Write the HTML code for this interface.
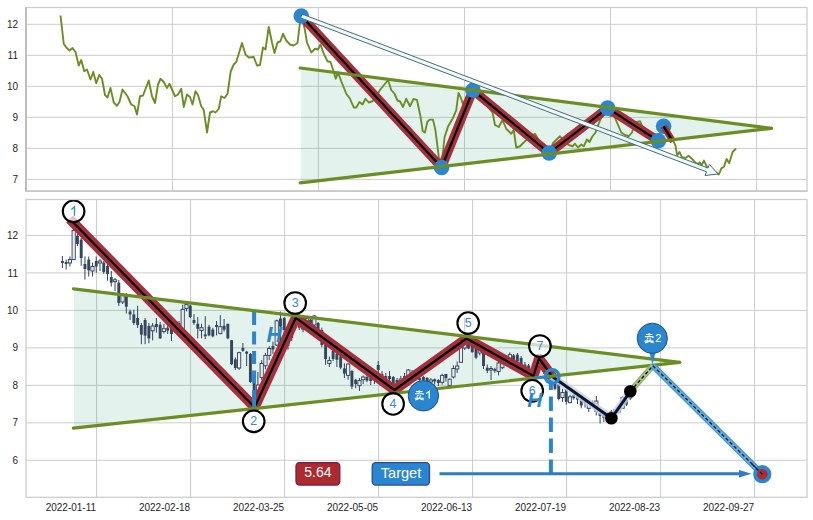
<!DOCTYPE html>
<html><head><meta charset="utf-8"><style>
html,body{margin:0;padding:0;background:#fff;width:813px;height:520px;overflow:hidden}
svg{display:block}
text{font-family:"Liberation Sans",sans-serif}
</style></head><body>
<svg width="813" height="520" viewBox="0 0 813 520">
<rect x="0" y="0" width="813" height="520" fill="#fff"/>
<g>
<line x1="26.0" y1="179.40" x2="807.0" y2="179.40" stroke="#cccccc" stroke-width="1"/>
<text x="18" y="183.00" font-size="10" fill="#262626" text-anchor="end">7</text>
<line x1="26.0" y1="148.38" x2="807.0" y2="148.38" stroke="#cccccc" stroke-width="1"/>
<text x="18" y="151.98" font-size="10" fill="#262626" text-anchor="end">8</text>
<line x1="26.0" y1="117.36" x2="807.0" y2="117.36" stroke="#cccccc" stroke-width="1"/>
<text x="18" y="120.96" font-size="10" fill="#262626" text-anchor="end">9</text>
<line x1="26.0" y1="86.34" x2="807.0" y2="86.34" stroke="#cccccc" stroke-width="1"/>
<text x="18" y="89.94" font-size="10" fill="#262626" text-anchor="end">10</text>
<line x1="26.0" y1="55.32" x2="807.0" y2="55.32" stroke="#cccccc" stroke-width="1"/>
<text x="18" y="58.92" font-size="10" fill="#262626" text-anchor="end">11</text>
<line x1="26.0" y1="24.30" x2="807.0" y2="24.30" stroke="#cccccc" stroke-width="1"/>
<text x="18" y="27.90" font-size="10" fill="#262626" text-anchor="end">12</text>
<line x1="172.4" y1="7.5" x2="172.4" y2="191.3" stroke="#cccccc" stroke-width="1"/>
<line x1="318.4" y1="7.5" x2="318.4" y2="191.3" stroke="#cccccc" stroke-width="1"/>
<line x1="464.5" y1="7.5" x2="464.5" y2="191.3" stroke="#cccccc" stroke-width="1"/>
<line x1="610.5" y1="7.5" x2="610.5" y2="191.3" stroke="#cccccc" stroke-width="1"/>
<line x1="756.6" y1="7.5" x2="756.6" y2="191.3" stroke="#cccccc" stroke-width="1"/>
<polygon points="301,68.3 771.5,128.3 301,182.9" fill="#3ca078" fill-opacity="0.14"/>
<polyline points="60.50,15.50 63.75,43.75 66.25,47.50 69.50,50.50 72.50,48.00 75.50,52.00 78.75,65.50 81.25,60.00 84.25,71.25 87.00,69.50 90.50,79.50 93.25,72.00 96.25,83.25 99.25,75.00 102.00,78.75 105.00,95.00 107.50,97.50 110.50,88.00 113.75,102.50 117.00,105.75 119.50,102.00 122.50,89.50 127.50,96.25 131.25,104.50 134.50,106.25 137.00,114.50 140.00,96.25 143.00,95.50 148.75,80.50 152.00,96.25 155.00,103.00 158.00,84.50 160.50,78.75 163.75,82.00 167.00,88.00 169.50,83.75 175.00,96.25 178.00,94.50 181.25,88.75 183.75,107.00 187.00,94.50 190.00,97.00 192.50,104.50 195.50,91.25 198.00,95.00 201.25,106.25 203.75,110.00 207.00,132.50 210.00,112.50 213.00,111.25 215.50,112.50 218.75,108.75 221.25,96.25 224.50,98.00 227.50,93.75 230.75,71.25 233.75,64.50 236.25,62.00 242.00,43.00 245.50,54.50 248.75,57.50 253.75,57.00 257.00,65.50 260.00,65.00 263.00,47.50 265.50,49.50 268.75,27.00 272.00,42.50 274.50,53.00 277.50,42.50 280.50,41.25 283.00,33.75 286.25,40.50 290.00,44.50 293.75,45.50 297.50,43.00 300.00,22.50 301.30,16.00 304.60,28.30 307.00,42.50 311.25,52.50 315.00,48.75 318.00,49.50 320.50,44.50 323.75,53.75 327.50,61.25 330.50,62.00 333.00,69.50 335.75,78.75 338.00,72.50 341.25,81.25 346.25,93.75 350.00,98.75 353.75,107.50 356.25,107.50 359.50,102.00 362.50,104.50 365.50,98.75 368.75,102.50 372.50,101.25 376.00,97.00 380.00,90.00 385.00,83.75 388.00,80.00 391.25,90.00 394.50,93.75 397.50,100.50 400.00,101.25 403.00,107.00 406.25,98.75 410.00,106.25 413.50,98.90 417.00,100.00 420.40,116.00 422.70,131.00 425.00,132.40 427.30,122.00 429.60,119.60 433.00,119.60 435.40,130.00 438.90,157.80 441.50,166.00 444.60,137.00 448.00,126.60 452.70,118.50 456.20,110.40 458.50,93.00 460.80,97.70 463.00,104.00 467.00,96.00 473.00,90.00 480.00,100.00 487.00,106.00 492.50,112.50 495.00,125.00 498.75,127.00 502.50,120.00 506.25,128.75 511.25,133.75 513.75,130.00 516.25,147.50 520.00,146.25 525.00,141.25 530.00,137.50 535.00,133.75 540.00,142.50 545.00,148.00 549.00,153.00 553.00,143.00 560.00,136.25 564.00,141.00 568.75,145.00 572.50,146.25 575.00,143.75 578.00,147.50 581.25,144.50 583.75,146.25 587.00,139.50 589.50,142.00 592.50,136.25 595.50,132.50 598.00,125.50 601.25,117.50 605.00,110.00 607.50,108.00 610.50,116.25 613.75,115.00 617.50,123.75 621.25,132.50 625.00,135.00 628.75,136.25 632.00,132.50 635.00,122.50 640.00,121.25 645.00,132.50 650.00,136.00 655.00,140.00 658.00,141.00 662.00,128.00 664.00,126.00 668.00,133.00 673.80,141.60 675.50,145.90 677.20,155.40 679.50,152.00 681.90,157.10 685.40,158.00 688.50,155.80 692.00,158.90 695.40,162.70 698.00,164.00 699.70,162.30 701.50,165.50 704.00,160.60 706.70,166.70 710.00,168.00 714.00,171.00 718.80,174.50 721.40,168.40 724.00,166.70 726.60,158.90 729.20,163.20 732.60,152.00 736.10,148.50" fill="none" stroke="#6b8e23" stroke-width="1.9" stroke-linejoin="round"/>
<polyline points="301.30,16.00 441.60,167.50 473.00,90.30 549.20,153.00 607.60,108.10 658.30,140.80" fill="none" stroke="#a5303b" stroke-width="9" stroke-linejoin="round" stroke-linecap="square"/>
<polyline points="301.30,16.00 441.60,167.50 473.00,90.30 549.20,153.00 607.60,108.10 658.30,140.80" fill="none" stroke="#000" stroke-width="2.2" stroke-linejoin="round"/>
<circle cx="301.3" cy="16" r="7.8" fill="#2a86cf"/>
<circle cx="441.6" cy="167.5" r="7.8" fill="#2a86cf"/>
<circle cx="473" cy="90.3" r="7.8" fill="#2a86cf"/>
<circle cx="549.2" cy="153" r="7.8" fill="#2a86cf"/>
<circle cx="607.6" cy="108.1" r="7.8" fill="#2a86cf"/>
<circle cx="658.3" cy="140.8" r="7.8" fill="#2a86cf"/>
<circle cx="663.6" cy="126.3" r="7.8" fill="#2a86cf"/>
<line x1="663.6" y1="126.3" x2="673" y2="141.5" stroke="#a5303b" stroke-width="6.5"/>
<line x1="663.6" y1="126.3" x2="672.2" y2="140.3" stroke="#000" stroke-width="2.2"/>
<line x1="300.2" y1="68" x2="771.5" y2="128.3" stroke="#6b8e23" stroke-width="3.2" stroke-linecap="round"/>
<line x1="300.2" y1="182.9" x2="771.5" y2="128.3" stroke="#6b8e23" stroke-width="3.2" stroke-linecap="round"/>
<polygon points="300.57,17.92 706.52,171.84 705.12,175.53 718.00,174.00 709.37,164.31 707.97,168.01 302.03,14.08" fill="#effafa" stroke="#4a6a7a" stroke-width="1" stroke-linejoin="miter"/>
<rect x="26.0" y="7.5" width="781.0" height="183.8" fill="none" stroke="#cccccc" stroke-width="1.25"/>
<line x1="26" y1="7" x2="26" y2="191.8" stroke="#bcbcbc" stroke-width="1.9"/>
<line x1="25" y1="191.1" x2="807.5" y2="191.1" stroke="#c6c6c6" stroke-width="1.5"/>
</g>
<g>
<line x1="26.0" y1="460.30" x2="807.0" y2="460.30" stroke="#cccccc" stroke-width="1"/>
<text x="18" y="463.90" font-size="10" fill="#262626" text-anchor="end">6</text>
<line x1="26.0" y1="422.82" x2="807.0" y2="422.82" stroke="#cccccc" stroke-width="1"/>
<text x="18" y="426.42" font-size="10" fill="#262626" text-anchor="end">7</text>
<line x1="26.0" y1="385.34" x2="807.0" y2="385.34" stroke="#cccccc" stroke-width="1"/>
<text x="18" y="388.94" font-size="10" fill="#262626" text-anchor="end">8</text>
<line x1="26.0" y1="347.86" x2="807.0" y2="347.86" stroke="#cccccc" stroke-width="1"/>
<text x="18" y="351.46" font-size="10" fill="#262626" text-anchor="end">9</text>
<line x1="26.0" y1="310.38" x2="807.0" y2="310.38" stroke="#cccccc" stroke-width="1"/>
<text x="18" y="313.98" font-size="10" fill="#262626" text-anchor="end">10</text>
<line x1="26.0" y1="272.90" x2="807.0" y2="272.90" stroke="#cccccc" stroke-width="1"/>
<text x="18" y="276.50" font-size="10" fill="#262626" text-anchor="end">11</text>
<line x1="26.0" y1="235.42" x2="807.0" y2="235.42" stroke="#cccccc" stroke-width="1"/>
<text x="18" y="239.02" font-size="10" fill="#262626" text-anchor="end">12</text>
<line x1="96.60" y1="199.5" x2="96.60" y2="497.3" stroke="#cccccc" stroke-width="1"/>
<text x="96.10" y="511.3" font-size="10" fill="#262626" text-anchor="end">2022-01-11</text>
<line x1="190.60" y1="199.5" x2="190.60" y2="497.3" stroke="#cccccc" stroke-width="1"/>
<text x="190.10" y="511.3" font-size="10" fill="#262626" text-anchor="end">2022-02-18</text>
<line x1="284.60" y1="199.5" x2="284.60" y2="497.3" stroke="#cccccc" stroke-width="1"/>
<text x="284.10" y="511.3" font-size="10" fill="#262626" text-anchor="end">2022-03-25</text>
<line x1="378.60" y1="199.5" x2="378.60" y2="497.3" stroke="#cccccc" stroke-width="1"/>
<text x="378.10" y="511.3" font-size="10" fill="#262626" text-anchor="end">2022-05-05</text>
<line x1="472.60" y1="199.5" x2="472.60" y2="497.3" stroke="#cccccc" stroke-width="1"/>
<text x="472.10" y="511.3" font-size="10" fill="#262626" text-anchor="end">2022-06-13</text>
<line x1="566.60" y1="199.5" x2="566.60" y2="497.3" stroke="#cccccc" stroke-width="1"/>
<text x="566.10" y="511.3" font-size="10" fill="#262626" text-anchor="end">2022-07-19</text>
<line x1="660.60" y1="199.5" x2="660.60" y2="497.3" stroke="#cccccc" stroke-width="1"/>
<text x="660.10" y="511.3" font-size="10" fill="#262626" text-anchor="end">2022-08-23</text>
<line x1="754.60" y1="199.5" x2="754.60" y2="497.3" stroke="#cccccc" stroke-width="1"/>
<text x="754.10" y="511.3" font-size="10" fill="#262626" text-anchor="end">2022-09-27</text>
<polygon points="74,289 679.7,362.3 74,428.2" fill="#3ca078" fill-opacity="0.14"/>
<line x1="62.40" y1="256.0" x2="62.40" y2="268.0" stroke="#34455e" stroke-width="1"/>
<rect x="60.95" y="261.0" width="2.9" height="2.00" fill="#34455e"/>
<line x1="66.16" y1="259.6" x2="66.16" y2="269.6" stroke="#34455e" stroke-width="1"/>
<rect x="64.71" y="262.0" width="2.9" height="2.00" fill="#34455e"/>
<line x1="69.92" y1="256.5" x2="69.92" y2="266.5" stroke="#34455e" stroke-width="1"/>
<rect x="68.32" y="259.5" width="3.2" height="3.50" fill="#fff" fill-opacity="0.85" stroke="#34455e" stroke-width="0.95"/>
<line x1="73.68" y1="225.0" x2="73.68" y2="260.0" stroke="#34455e" stroke-width="1"/>
<rect x="72.08" y="230.4" width="3.2" height="29.20" fill="#fff" fill-opacity="0.85" stroke="#34455e" stroke-width="0.95"/>
<line x1="77.44" y1="233.5" x2="77.44" y2="246.0" stroke="#34455e" stroke-width="1"/>
<rect x="75.99" y="236.0" width="2.9" height="8.00" fill="#34455e"/>
<line x1="81.20" y1="238.0" x2="81.20" y2="265.8" stroke="#34455e" stroke-width="1"/>
<rect x="79.75" y="239.6" width="2.9" height="18.40" fill="#34455e"/>
<line x1="84.96" y1="256.5" x2="84.96" y2="279.6" stroke="#34455e" stroke-width="1"/>
<rect x="83.51" y="264.0" width="2.9" height="5.00" fill="#34455e"/>
<line x1="88.72" y1="256.5" x2="88.72" y2="276.5" stroke="#34455e" stroke-width="1"/>
<rect x="87.27" y="259.6" width="2.9" height="10.80" fill="#34455e"/>
<line x1="92.48" y1="262.7" x2="92.48" y2="276.5" stroke="#34455e" stroke-width="1"/>
<rect x="90.88" y="266.5" width="3.2" height="4.50" fill="#fff" fill-opacity="0.85" stroke="#34455e" stroke-width="0.95"/>
<line x1="96.24" y1="256.5" x2="96.24" y2="272.7" stroke="#34455e" stroke-width="1"/>
<rect x="94.79" y="261.0" width="2.9" height="5.50" fill="#34455e"/>
<line x1="100.00" y1="259.0" x2="100.00" y2="271.0" stroke="#34455e" stroke-width="1"/>
<rect x="98.40" y="261.0" width="3.2" height="2.00" fill="#fff" fill-opacity="0.85" stroke="#34455e" stroke-width="0.95"/>
<line x1="103.76" y1="261.0" x2="103.76" y2="274.0" stroke="#34455e" stroke-width="1"/>
<rect x="102.31" y="262.5" width="2.9" height="9.50" fill="#34455e"/>
<line x1="107.52" y1="264.0" x2="107.52" y2="280.7" stroke="#34455e" stroke-width="1"/>
<rect x="106.07" y="266.0" width="2.9" height="8.00" fill="#34455e"/>
<line x1="111.28" y1="271.0" x2="111.28" y2="286.5" stroke="#34455e" stroke-width="1"/>
<rect x="109.83" y="277.0" width="2.9" height="5.70" fill="#34455e"/>
<line x1="115.04" y1="278.0" x2="115.04" y2="291.0" stroke="#34455e" stroke-width="1"/>
<rect x="113.44" y="279.8" width="3.2" height="1.90" fill="#fff" fill-opacity="0.85" stroke="#34455e" stroke-width="0.95"/>
<line x1="118.80" y1="280.0" x2="118.80" y2="306.0" stroke="#34455e" stroke-width="1"/>
<rect x="117.35" y="282.7" width="2.9" height="20.20" fill="#34455e"/>
<line x1="122.56" y1="293.0" x2="122.56" y2="304.0" stroke="#34455e" stroke-width="1"/>
<rect x="120.96" y="294.2" width="3.2" height="7.80" fill="#fff" fill-opacity="0.85" stroke="#34455e" stroke-width="0.95"/>
<line x1="126.32" y1="293.0" x2="126.32" y2="313.5" stroke="#34455e" stroke-width="1"/>
<rect x="124.87" y="294.2" width="2.9" height="12.50" fill="#34455e"/>
<line x1="130.08" y1="309.6" x2="130.08" y2="320.0" stroke="#34455e" stroke-width="1"/>
<rect x="128.63" y="311.5" width="2.9" height="2.90" fill="#34455e"/>
<line x1="133.84" y1="309.6" x2="133.84" y2="325.0" stroke="#34455e" stroke-width="1"/>
<rect x="132.39" y="314.4" width="2.9" height="8.60" fill="#34455e"/>
<line x1="137.60" y1="305.8" x2="137.60" y2="328.0" stroke="#34455e" stroke-width="1"/>
<rect x="136.15" y="318.0" width="2.9" height="7.00" fill="#34455e"/>
<line x1="141.36" y1="323.0" x2="141.36" y2="344.2" stroke="#34455e" stroke-width="1"/>
<rect x="139.91" y="325.0" width="2.9" height="9.60" fill="#34455e"/>
<line x1="145.12" y1="318.0" x2="145.12" y2="344.2" stroke="#34455e" stroke-width="1"/>
<rect x="143.67" y="320.0" width="2.9" height="15.60" fill="#34455e"/>
<line x1="148.88" y1="323.0" x2="148.88" y2="343.3" stroke="#34455e" stroke-width="1"/>
<rect x="147.43" y="326.0" width="2.9" height="12.50" fill="#34455e"/>
<line x1="152.64" y1="323.0" x2="152.64" y2="340.4" stroke="#34455e" stroke-width="1"/>
<rect x="151.04" y="326.0" width="3.2" height="4.80" fill="#fff" fill-opacity="0.85" stroke="#34455e" stroke-width="0.95"/>
<line x1="156.40" y1="318.0" x2="156.40" y2="332.7" stroke="#34455e" stroke-width="1"/>
<rect x="154.95" y="324.0" width="2.9" height="3.00" fill="#34455e"/>
<line x1="160.16" y1="322.0" x2="160.16" y2="339.0" stroke="#34455e" stroke-width="1"/>
<rect x="158.71" y="324.8" width="2.9" height="13.50" fill="#34455e"/>
<line x1="163.92" y1="323.8" x2="163.92" y2="333.5" stroke="#34455e" stroke-width="1"/>
<rect x="162.32" y="328.7" width="3.2" height="2.80" fill="#fff" fill-opacity="0.85" stroke="#34455e" stroke-width="0.95"/>
<line x1="167.68" y1="322.0" x2="167.68" y2="334.0" stroke="#34455e" stroke-width="1"/>
<rect x="166.23" y="327.7" width="2.9" height="2.90" fill="#34455e"/>
<line x1="171.44" y1="325.0" x2="171.44" y2="341.0" stroke="#34455e" stroke-width="1"/>
<rect x="169.99" y="328.0" width="2.9" height="6.00" fill="#34455e"/>
<line x1="175.20" y1="322.0" x2="175.20" y2="333.0" stroke="#34455e" stroke-width="1"/>
<rect x="173.75" y="325.0" width="2.9" height="5.00" fill="#34455e"/>
<line x1="178.96" y1="321.0" x2="178.96" y2="330.0" stroke="#34455e" stroke-width="1"/>
<rect x="177.51" y="323.0" width="2.9" height="4.00" fill="#34455e"/>
<line x1="182.72" y1="304.6" x2="182.72" y2="329.6" stroke="#34455e" stroke-width="1"/>
<rect x="181.12" y="309.4" width="3.2" height="19.30" fill="#fff" fill-opacity="0.85" stroke="#34455e" stroke-width="0.95"/>
<line x1="186.48" y1="301.7" x2="186.48" y2="311.3" stroke="#34455e" stroke-width="1"/>
<rect x="184.88" y="304.6" width="3.2" height="3.90" fill="#fff" fill-opacity="0.85" stroke="#34455e" stroke-width="0.95"/>
<line x1="190.24" y1="304.6" x2="190.24" y2="318.0" stroke="#34455e" stroke-width="1"/>
<rect x="188.79" y="305.6" width="2.9" height="11.50" fill="#34455e"/>
<line x1="194.00" y1="314.2" x2="194.00" y2="324.8" stroke="#34455e" stroke-width="1"/>
<rect x="192.55" y="320.0" width="2.9" height="2.90" fill="#34455e"/>
<line x1="197.76" y1="317.1" x2="197.76" y2="338.3" stroke="#34455e" stroke-width="1"/>
<rect x="196.31" y="323.8" width="2.9" height="4.90" fill="#34455e"/>
<line x1="201.52" y1="323.8" x2="201.52" y2="338.3" stroke="#34455e" stroke-width="1"/>
<rect x="199.92" y="327.7" width="3.2" height="2.90" fill="#fff" fill-opacity="0.85" stroke="#34455e" stroke-width="0.95"/>
<line x1="205.28" y1="316.2" x2="205.28" y2="339.2" stroke="#34455e" stroke-width="1"/>
<rect x="203.83" y="334.4" width="2.9" height="1.90" fill="#34455e"/>
<line x1="209.04" y1="324.8" x2="209.04" y2="336.3" stroke="#34455e" stroke-width="1"/>
<rect x="207.59" y="326.7" width="2.9" height="8.70" fill="#34455e"/>
<line x1="212.80" y1="327.7" x2="212.80" y2="337.3" stroke="#34455e" stroke-width="1"/>
<rect x="211.35" y="329.6" width="2.9" height="6.70" fill="#34455e"/>
<line x1="216.56" y1="321.0" x2="216.56" y2="335.4" stroke="#34455e" stroke-width="1"/>
<rect x="215.11" y="325.0" width="2.9" height="2.00" fill="#34455e"/>
<line x1="220.32" y1="315.2" x2="220.32" y2="334.4" stroke="#34455e" stroke-width="1"/>
<rect x="218.72" y="326.7" width="3.2" height="6.80" fill="#fff" fill-opacity="0.85" stroke="#34455e" stroke-width="0.95"/>
<line x1="224.08" y1="319.0" x2="224.08" y2="331.5" stroke="#34455e" stroke-width="1"/>
<rect x="222.63" y="325.8" width="2.9" height="3.80" fill="#34455e"/>
<line x1="227.84" y1="323.8" x2="227.84" y2="339.2" stroke="#34455e" stroke-width="1"/>
<rect x="226.39" y="323.8" width="2.9" height="14.50" fill="#34455e"/>
<line x1="231.60" y1="340.2" x2="231.60" y2="365.2" stroke="#34455e" stroke-width="1"/>
<rect x="230.15" y="340.2" width="2.9" height="24.00" fill="#34455e"/>
<line x1="235.36" y1="357.5" x2="235.36" y2="370.0" stroke="#34455e" stroke-width="1"/>
<rect x="233.91" y="359.4" width="2.9" height="8.60" fill="#34455e"/>
<line x1="239.12" y1="351.7" x2="239.12" y2="370.0" stroke="#34455e" stroke-width="1"/>
<rect x="237.52" y="352.7" width="3.2" height="15.30" fill="#fff" fill-opacity="0.85" stroke="#34455e" stroke-width="0.95"/>
<line x1="242.88" y1="343.0" x2="242.88" y2="351.7" stroke="#34455e" stroke-width="1"/>
<rect x="241.43" y="347.9" width="2.9" height="2.90" fill="#34455e"/>
<line x1="246.64" y1="350.8" x2="246.64" y2="366.0" stroke="#34455e" stroke-width="1"/>
<rect x="245.19" y="351.7" width="2.9" height="2.00" fill="#34455e"/>
<line x1="250.40" y1="353.0" x2="250.40" y2="383.0" stroke="#34455e" stroke-width="1"/>
<rect x="248.95" y="354.0" width="2.9" height="28.00" fill="#34455e"/>
<line x1="254.16" y1="375.0" x2="254.16" y2="408.0" stroke="#34455e" stroke-width="1"/>
<rect x="252.71" y="380.0" width="2.9" height="20.00" fill="#34455e"/>
<line x1="257.92" y1="372.0" x2="257.92" y2="406.0" stroke="#34455e" stroke-width="1"/>
<rect x="256.32" y="385.0" width="3.2" height="17.00" fill="#fff" fill-opacity="0.85" stroke="#34455e" stroke-width="0.95"/>
<line x1="261.68" y1="360.0" x2="261.68" y2="379.7" stroke="#34455e" stroke-width="1"/>
<rect x="260.08" y="363.5" width="3.2" height="13.90" fill="#fff" fill-opacity="0.85" stroke="#34455e" stroke-width="0.95"/>
<line x1="265.44" y1="353.0" x2="265.44" y2="369.3" stroke="#34455e" stroke-width="1"/>
<rect x="263.84" y="355.4" width="3.2" height="10.40" fill="#fff" fill-opacity="0.85" stroke="#34455e" stroke-width="0.95"/>
<line x1="269.20" y1="346.0" x2="269.20" y2="360.0" stroke="#34455e" stroke-width="1"/>
<rect x="267.60" y="348.5" width="3.2" height="6.90" fill="#fff" fill-opacity="0.85" stroke="#34455e" stroke-width="0.95"/>
<line x1="272.96" y1="341.6" x2="272.96" y2="354.0" stroke="#34455e" stroke-width="1"/>
<rect x="271.51" y="346.0" width="2.9" height="3.50" fill="#34455e"/>
<line x1="276.72" y1="319.6" x2="276.72" y2="346.0" stroke="#34455e" stroke-width="1"/>
<rect x="275.12" y="320.8" width="3.2" height="24.20" fill="#fff" fill-opacity="0.85" stroke="#34455e" stroke-width="0.95"/>
<line x1="280.48" y1="311.5" x2="280.48" y2="346.0" stroke="#34455e" stroke-width="1"/>
<rect x="279.03" y="318.5" width="2.9" height="8.10" fill="#34455e"/>
<line x1="284.24" y1="317.0" x2="284.24" y2="335.0" stroke="#34455e" stroke-width="1"/>
<rect x="282.79" y="318.0" width="2.9" height="12.00" fill="#34455e"/>
<line x1="288.00" y1="334.6" x2="288.00" y2="349.6" stroke="#34455e" stroke-width="1"/>
<rect x="286.55" y="339.0" width="2.9" height="7.00" fill="#34455e"/>
<line x1="291.76" y1="325.0" x2="291.76" y2="341.0" stroke="#34455e" stroke-width="1"/>
<rect x="290.31" y="326.6" width="2.9" height="11.40" fill="#34455e"/>
<line x1="295.52" y1="313.0" x2="295.52" y2="325.0" stroke="#34455e" stroke-width="1"/>
<rect x="293.92" y="315.0" width="3.2" height="8.00" fill="#fff" fill-opacity="0.85" stroke="#34455e" stroke-width="0.95"/>
<line x1="299.28" y1="315.0" x2="299.28" y2="330.0" stroke="#34455e" stroke-width="1"/>
<rect x="297.83" y="318.5" width="2.9" height="9.20" fill="#34455e"/>
<line x1="303.04" y1="320.8" x2="303.04" y2="332.3" stroke="#34455e" stroke-width="1"/>
<rect x="301.44" y="322.0" width="3.2" height="7.00" fill="#fff" fill-opacity="0.85" stroke="#34455e" stroke-width="0.95"/>
<line x1="306.80" y1="318.0" x2="306.80" y2="330.0" stroke="#34455e" stroke-width="1"/>
<rect x="305.20" y="318.5" width="3.2" height="9.20" fill="#fff" fill-opacity="0.85" stroke="#34455e" stroke-width="0.95"/>
<line x1="310.56" y1="318.0" x2="310.56" y2="326.0" stroke="#34455e" stroke-width="1"/>
<rect x="309.11" y="319.6" width="2.9" height="3.40" fill="#34455e"/>
<line x1="314.32" y1="315.0" x2="314.32" y2="328.0" stroke="#34455e" stroke-width="1"/>
<rect x="312.72" y="316.0" width="3.2" height="9.00" fill="#fff" fill-opacity="0.85" stroke="#34455e" stroke-width="0.95"/>
<line x1="318.08" y1="322.0" x2="318.08" y2="330.0" stroke="#34455e" stroke-width="1"/>
<rect x="316.63" y="323.0" width="2.9" height="5.90" fill="#34455e"/>
<line x1="321.84" y1="327.7" x2="321.84" y2="347.3" stroke="#34455e" stroke-width="1"/>
<rect x="320.39" y="330.0" width="2.9" height="15.00" fill="#34455e"/>
<line x1="325.60" y1="341.6" x2="325.60" y2="364.7" stroke="#34455e" stroke-width="1"/>
<rect x="324.15" y="345.0" width="2.9" height="14.00" fill="#34455e"/>
<line x1="329.36" y1="356.6" x2="329.36" y2="367.0" stroke="#34455e" stroke-width="1"/>
<rect x="327.76" y="360.5" width="3.2" height="3.00" fill="#fff" fill-opacity="0.85" stroke="#34455e" stroke-width="0.95"/>
<line x1="333.12" y1="347.3" x2="333.12" y2="361.0" stroke="#34455e" stroke-width="1"/>
<rect x="331.67" y="350.8" width="2.9" height="8.20" fill="#34455e"/>
<line x1="336.88" y1="351.0" x2="336.88" y2="367.0" stroke="#34455e" stroke-width="1"/>
<rect x="335.43" y="353.7" width="2.9" height="6.10" fill="#34455e"/>
<line x1="340.64" y1="354.6" x2="340.64" y2="369.3" stroke="#34455e" stroke-width="1"/>
<rect x="339.19" y="356.3" width="2.9" height="11.30" fill="#34455e"/>
<line x1="344.40" y1="363.3" x2="344.40" y2="378.0" stroke="#34455e" stroke-width="1"/>
<rect x="342.95" y="368.4" width="2.9" height="5.20" fill="#34455e"/>
<line x1="348.16" y1="363.3" x2="348.16" y2="379.7" stroke="#34455e" stroke-width="1"/>
<rect x="346.56" y="364.0" width="3.2" height="11.40" fill="#fff" fill-opacity="0.85" stroke="#34455e" stroke-width="0.95"/>
<line x1="351.92" y1="370.2" x2="351.92" y2="389.2" stroke="#34455e" stroke-width="1"/>
<rect x="350.47" y="371.0" width="2.9" height="15.60" fill="#34455e"/>
<line x1="355.68" y1="378.8" x2="355.68" y2="388.3" stroke="#34455e" stroke-width="1"/>
<rect x="354.23" y="379.7" width="2.9" height="4.30" fill="#34455e"/>
<line x1="359.44" y1="378.0" x2="359.44" y2="391.0" stroke="#34455e" stroke-width="1"/>
<rect x="357.84" y="380.6" width="3.2" height="5.10" fill="#fff" fill-opacity="0.85" stroke="#34455e" stroke-width="0.95"/>
<line x1="363.20" y1="375.4" x2="363.20" y2="384.0" stroke="#34455e" stroke-width="1"/>
<rect x="361.60" y="377.0" width="3.2" height="2.70" fill="#fff" fill-opacity="0.85" stroke="#34455e" stroke-width="0.95"/>
<line x1="366.96" y1="375.4" x2="366.96" y2="382.3" stroke="#34455e" stroke-width="1"/>
<rect x="365.51" y="377.0" width="2.9" height="3.60" fill="#34455e"/>
<line x1="370.72" y1="377.0" x2="370.72" y2="385.0" stroke="#34455e" stroke-width="1"/>
<rect x="369.27" y="378.0" width="2.9" height="3.00" fill="#34455e"/>
<line x1="374.48" y1="372.0" x2="374.48" y2="384.0" stroke="#34455e" stroke-width="1"/>
<rect x="373.03" y="375.0" width="2.9" height="5.00" fill="#34455e"/>
<line x1="378.24" y1="361.0" x2="378.24" y2="375.4" stroke="#34455e" stroke-width="1"/>
<rect x="376.79" y="365.0" width="2.9" height="5.00" fill="#34455e"/>
<line x1="382.00" y1="371.0" x2="382.00" y2="380.6" stroke="#34455e" stroke-width="1"/>
<rect x="380.55" y="374.0" width="2.9" height="3.00" fill="#34455e"/>
<line x1="385.76" y1="373.0" x2="385.76" y2="384.0" stroke="#34455e" stroke-width="1"/>
<rect x="384.31" y="376.0" width="2.9" height="5.00" fill="#34455e"/>
<line x1="389.52" y1="371.0" x2="389.52" y2="382.3" stroke="#34455e" stroke-width="1"/>
<rect x="388.07" y="376.0" width="2.9" height="3.00" fill="#34455e"/>
<line x1="393.28" y1="376.0" x2="393.28" y2="386.0" stroke="#34455e" stroke-width="1"/>
<rect x="391.83" y="377.0" width="2.9" height="8.00" fill="#34455e"/>
<line x1="397.04" y1="378.0" x2="397.04" y2="389.0" stroke="#34455e" stroke-width="1"/>
<rect x="395.59" y="380.0" width="2.9" height="6.00" fill="#34455e"/>
<line x1="400.80" y1="376.0" x2="400.80" y2="387.0" stroke="#34455e" stroke-width="1"/>
<rect x="399.20" y="379.0" width="3.2" height="5.00" fill="#fff" fill-opacity="0.85" stroke="#34455e" stroke-width="0.95"/>
<line x1="404.56" y1="373.0" x2="404.56" y2="383.0" stroke="#34455e" stroke-width="1"/>
<rect x="403.11" y="376.0" width="2.9" height="4.00" fill="#34455e"/>
<line x1="408.32" y1="369.0" x2="408.32" y2="378.8" stroke="#34455e" stroke-width="1"/>
<rect x="406.72" y="370.0" width="3.2" height="7.00" fill="#fff" fill-opacity="0.85" stroke="#34455e" stroke-width="0.95"/>
<line x1="412.08" y1="370.0" x2="412.08" y2="380.0" stroke="#34455e" stroke-width="1"/>
<rect x="410.63" y="372.0" width="2.9" height="6.00" fill="#34455e"/>
<line x1="415.84" y1="372.0" x2="415.84" y2="381.0" stroke="#34455e" stroke-width="1"/>
<rect x="414.39" y="374.0" width="2.9" height="5.00" fill="#34455e"/>
<line x1="419.60" y1="377.0" x2="419.60" y2="381.5" stroke="#34455e" stroke-width="1"/>
<rect x="418.15" y="378.0" width="2.9" height="2.00" fill="#34455e"/>
<line x1="423.36" y1="376.0" x2="423.36" y2="381.5" stroke="#34455e" stroke-width="1"/>
<rect x="421.91" y="377.0" width="2.9" height="3.00" fill="#34455e"/>
<line x1="427.12" y1="377.0" x2="427.12" y2="383.0" stroke="#34455e" stroke-width="1"/>
<rect x="425.67" y="378.0" width="2.9" height="3.00" fill="#34455e"/>
<line x1="430.88" y1="378.0" x2="430.88" y2="384.0" stroke="#34455e" stroke-width="1"/>
<rect x="429.28" y="380.0" width="3.2" height="2.00" fill="#fff" fill-opacity="0.85" stroke="#34455e" stroke-width="0.95"/>
<line x1="434.64" y1="378.5" x2="434.64" y2="384.6" stroke="#34455e" stroke-width="1"/>
<rect x="433.19" y="379.2" width="2.9" height="2.30" fill="#34455e"/>
<line x1="438.40" y1="379.2" x2="438.40" y2="386.0" stroke="#34455e" stroke-width="1"/>
<rect x="436.95" y="380.0" width="2.9" height="3.00" fill="#34455e"/>
<line x1="442.16" y1="373.8" x2="442.16" y2="384.6" stroke="#34455e" stroke-width="1"/>
<rect x="440.56" y="375.4" width="3.2" height="6.90" fill="#fff" fill-opacity="0.85" stroke="#34455e" stroke-width="0.95"/>
<line x1="445.92" y1="373.8" x2="445.92" y2="381.5" stroke="#34455e" stroke-width="1"/>
<rect x="444.47" y="374.0" width="2.9" height="4.00" fill="#34455e"/>
<line x1="449.68" y1="378.5" x2="449.68" y2="386.0" stroke="#34455e" stroke-width="1"/>
<rect x="448.08" y="379.2" width="3.2" height="6.20" fill="#fff" fill-opacity="0.85" stroke="#34455e" stroke-width="0.95"/>
<line x1="453.44" y1="365.4" x2="453.44" y2="378.5" stroke="#34455e" stroke-width="1"/>
<rect x="451.84" y="368.5" width="3.2" height="8.50" fill="#fff" fill-opacity="0.85" stroke="#34455e" stroke-width="0.95"/>
<line x1="457.20" y1="361.5" x2="457.20" y2="373.0" stroke="#34455e" stroke-width="1"/>
<rect x="455.60" y="366.0" width="3.2" height="3.00" fill="#fff" fill-opacity="0.85" stroke="#34455e" stroke-width="0.95"/>
<line x1="460.96" y1="345.4" x2="460.96" y2="363.0" stroke="#34455e" stroke-width="1"/>
<rect x="459.36" y="347.7" width="3.2" height="14.60" fill="#fff" fill-opacity="0.85" stroke="#34455e" stroke-width="0.95"/>
<line x1="464.72" y1="318.0" x2="464.72" y2="350.0" stroke="#34455e" stroke-width="1"/>
<rect x="463.12" y="336.0" width="3.2" height="12.00" fill="#fff" fill-opacity="0.85" stroke="#34455e" stroke-width="0.95"/>
<line x1="468.48" y1="341.5" x2="468.48" y2="349.2" stroke="#34455e" stroke-width="1"/>
<rect x="467.03" y="343.0" width="2.9" height="5.50" fill="#34455e"/>
<line x1="472.24" y1="345.0" x2="472.24" y2="352.3" stroke="#34455e" stroke-width="1"/>
<rect x="470.79" y="345.4" width="2.9" height="6.90" fill="#34455e"/>
<line x1="476.00" y1="347.7" x2="476.00" y2="359.2" stroke="#34455e" stroke-width="1"/>
<rect x="474.55" y="348.5" width="2.9" height="9.20" fill="#34455e"/>
<line x1="479.76" y1="347.7" x2="479.76" y2="355.4" stroke="#34455e" stroke-width="1"/>
<rect x="478.16" y="349.0" width="3.2" height="4.00" fill="#fff" fill-opacity="0.85" stroke="#34455e" stroke-width="0.95"/>
<line x1="483.52" y1="349.2" x2="483.52" y2="369.0" stroke="#34455e" stroke-width="1"/>
<rect x="482.07" y="350.0" width="2.9" height="16.00" fill="#34455e"/>
<line x1="487.28" y1="364.6" x2="487.28" y2="373.0" stroke="#34455e" stroke-width="1"/>
<rect x="485.83" y="367.7" width="2.9" height="3.10" fill="#34455e"/>
<line x1="491.04" y1="366.0" x2="491.04" y2="380.0" stroke="#34455e" stroke-width="1"/>
<rect x="489.44" y="368.5" width="3.2" height="1.50" fill="#fff" fill-opacity="0.85" stroke="#34455e" stroke-width="0.95"/>
<line x1="494.80" y1="367.7" x2="494.80" y2="373.0" stroke="#34455e" stroke-width="1"/>
<rect x="493.35" y="369.0" width="2.9" height="1.80" fill="#34455e"/>
<line x1="498.56" y1="360.8" x2="498.56" y2="375.4" stroke="#34455e" stroke-width="1"/>
<rect x="496.96" y="363.0" width="3.2" height="8.50" fill="#fff" fill-opacity="0.85" stroke="#34455e" stroke-width="0.95"/>
<line x1="502.32" y1="361.5" x2="502.32" y2="369.2" stroke="#34455e" stroke-width="1"/>
<rect x="500.72" y="363.8" width="3.2" height="3.90" fill="#fff" fill-opacity="0.85" stroke="#34455e" stroke-width="0.95"/>
<line x1="506.08" y1="356.0" x2="506.08" y2="366.0" stroke="#34455e" stroke-width="1"/>
<rect x="504.63" y="358.0" width="2.9" height="5.00" fill="#34455e"/>
<line x1="509.84" y1="352.3" x2="509.84" y2="360.8" stroke="#34455e" stroke-width="1"/>
<rect x="508.24" y="354.6" width="3.2" height="3.90" fill="#fff" fill-opacity="0.85" stroke="#34455e" stroke-width="0.95"/>
<line x1="513.60" y1="354.0" x2="513.60" y2="362.0" stroke="#34455e" stroke-width="1"/>
<rect x="512.15" y="355.4" width="2.9" height="4.60" fill="#34455e"/>
<line x1="517.36" y1="353.0" x2="517.36" y2="363.0" stroke="#34455e" stroke-width="1"/>
<rect x="515.91" y="354.6" width="2.9" height="6.90" fill="#34455e"/>
<line x1="521.12" y1="356.0" x2="521.12" y2="366.0" stroke="#34455e" stroke-width="1"/>
<rect x="519.67" y="358.0" width="2.9" height="6.00" fill="#34455e"/>
<line x1="524.88" y1="362.0" x2="524.88" y2="369.0" stroke="#34455e" stroke-width="1"/>
<rect x="523.43" y="364.6" width="2.9" height="3.10" fill="#34455e"/>
<line x1="528.64" y1="364.0" x2="528.64" y2="371.0" stroke="#34455e" stroke-width="1"/>
<rect x="527.19" y="365.4" width="2.9" height="3.80" fill="#34455e"/>
<line x1="532.40" y1="368.0" x2="532.40" y2="378.0" stroke="#34455e" stroke-width="1"/>
<rect x="530.95" y="370.0" width="2.9" height="6.00" fill="#34455e"/>
<line x1="536.16" y1="358.0" x2="536.16" y2="372.0" stroke="#34455e" stroke-width="1"/>
<rect x="534.56" y="362.0" width="3.2" height="8.00" fill="#fff" fill-opacity="0.85" stroke="#34455e" stroke-width="0.95"/>
<line x1="539.92" y1="358.0" x2="539.92" y2="368.0" stroke="#34455e" stroke-width="1"/>
<rect x="538.47" y="360.0" width="2.9" height="6.00" fill="#34455e"/>
<line x1="543.68" y1="363.0" x2="543.68" y2="374.0" stroke="#34455e" stroke-width="1"/>
<rect x="542.23" y="365.0" width="2.9" height="7.00" fill="#34455e"/>
<line x1="547.44" y1="368.0" x2="547.44" y2="379.0" stroke="#34455e" stroke-width="1"/>
<rect x="545.99" y="370.0" width="2.9" height="7.00" fill="#34455e"/>
<line x1="551.20" y1="373.0" x2="551.20" y2="386.0" stroke="#34455e" stroke-width="1"/>
<rect x="549.75" y="375.0" width="2.9" height="8.00" fill="#34455e"/>
<line x1="554.96" y1="378.8" x2="554.96" y2="390.3" stroke="#34455e" stroke-width="1"/>
<rect x="553.51" y="380.0" width="2.9" height="8.90" fill="#34455e"/>
<line x1="558.72" y1="383.0" x2="558.72" y2="400.4" stroke="#34455e" stroke-width="1"/>
<rect x="557.27" y="383.8" width="2.9" height="15.20" fill="#34455e"/>
<line x1="562.48" y1="388.9" x2="562.48" y2="401.8" stroke="#34455e" stroke-width="1"/>
<rect x="560.88" y="392.5" width="3.2" height="5.00" fill="#fff" fill-opacity="0.85" stroke="#34455e" stroke-width="0.95"/>
<line x1="566.24" y1="387.4" x2="566.24" y2="404.7" stroke="#34455e" stroke-width="1"/>
<rect x="564.79" y="388.9" width="2.9" height="12.90" fill="#34455e"/>
<line x1="570.00" y1="394.6" x2="570.00" y2="403.3" stroke="#34455e" stroke-width="1"/>
<rect x="568.40" y="396.8" width="3.2" height="5.80" fill="#fff" fill-opacity="0.85" stroke="#34455e" stroke-width="0.95"/>
<line x1="573.76" y1="393.2" x2="573.76" y2="399.7" stroke="#34455e" stroke-width="1"/>
<rect x="572.31" y="394.6" width="2.9" height="3.60" fill="#34455e"/>
<line x1="577.52" y1="394.6" x2="577.52" y2="404.0" stroke="#34455e" stroke-width="1"/>
<rect x="576.07" y="396.0" width="2.9" height="3.70" fill="#34455e"/>
<line x1="581.28" y1="398.2" x2="581.28" y2="408.3" stroke="#34455e" stroke-width="1"/>
<rect x="579.83" y="399.7" width="2.9" height="5.80" fill="#34455e"/>
<line x1="585.04" y1="399.7" x2="585.04" y2="407.6" stroke="#34455e" stroke-width="1"/>
<rect x="583.59" y="401.0" width="2.9" height="2.30" fill="#34455e"/>
<line x1="588.80" y1="401.8" x2="588.80" y2="412.0" stroke="#34455e" stroke-width="1"/>
<rect x="587.20" y="403.3" width="3.2" height="5.00" fill="#fff" fill-opacity="0.85" stroke="#34455e" stroke-width="0.95"/>
<line x1="592.56" y1="400.4" x2="592.56" y2="407.6" stroke="#34455e" stroke-width="1"/>
<rect x="591.11" y="401.8" width="2.9" height="2.90" fill="#34455e"/>
<line x1="596.32" y1="396.0" x2="596.32" y2="415.6" stroke="#34455e" stroke-width="1"/>
<rect x="594.72" y="401.0" width="3.2" height="10.20" fill="#fff" fill-opacity="0.85" stroke="#34455e" stroke-width="0.95"/>
<line x1="600.08" y1="412.0" x2="600.08" y2="423.5" stroke="#34455e" stroke-width="1"/>
<rect x="598.63" y="413.0" width="2.9" height="3.00" fill="#34455e"/>
<line x1="603.84" y1="414.8" x2="603.84" y2="422.0" stroke="#34455e" stroke-width="1"/>
<rect x="602.39" y="415.0" width="2.9" height="3.00" fill="#34455e"/>
<line x1="607.60" y1="412.0" x2="607.60" y2="422.0" stroke="#34455e" stroke-width="1"/>
<rect x="606.15" y="414.0" width="2.9" height="6.00" fill="#34455e"/>
<line x1="611.36" y1="410.0" x2="611.36" y2="420.0" stroke="#34455e" stroke-width="1"/>
<rect x="609.76" y="412.0" width="3.2" height="6.00" fill="#fff" fill-opacity="0.85" stroke="#34455e" stroke-width="0.95"/>
<line x1="615.12" y1="409.0" x2="615.12" y2="413.4" stroke="#34455e" stroke-width="1"/>
<rect x="613.52" y="410.0" width="3.2" height="2.00" fill="#fff" fill-opacity="0.85" stroke="#34455e" stroke-width="0.95"/>
<line x1="618.88" y1="406.2" x2="618.88" y2="413.4" stroke="#34455e" stroke-width="1"/>
<rect x="617.28" y="407.6" width="3.2" height="4.40" fill="#fff" fill-opacity="0.85" stroke="#34455e" stroke-width="0.95"/>
<line x1="622.64" y1="396.0" x2="622.64" y2="409.0" stroke="#34455e" stroke-width="1"/>
<rect x="621.04" y="397.5" width="3.2" height="10.80" fill="#fff" fill-opacity="0.85" stroke="#34455e" stroke-width="0.95"/>
<line x1="626.40" y1="399.0" x2="626.40" y2="406.2" stroke="#34455e" stroke-width="1"/>
<rect x="624.95" y="400.0" width="2.9" height="4.70" fill="#34455e"/>
<line x1="630.16" y1="390.0" x2="630.16" y2="400.0" stroke="#34455e" stroke-width="1"/>
<rect x="628.56" y="392.0" width="3.2" height="6.00" fill="#fff" fill-opacity="0.85" stroke="#34455e" stroke-width="0.95"/>
<polyline points="73.20,222.50 254.60,407.30 295.80,317.80 394.50,390.00 466.50,338.50 533.50,376.00 539.00,358.50 552.20,376.50" fill="none" stroke="#a5303b" stroke-width="10" stroke-linejoin="round" stroke-linecap="square"/>
<polyline points="73.20,222.50 254.60,407.30 295.80,317.80 394.50,390.00 466.50,338.50 533.50,376.00 539.00,358.50 552.20,376.50" fill="none" stroke="#000" stroke-width="2.2" stroke-linejoin="round"/>
<line x1="254.1" y1="312" x2="254.1" y2="407.3" stroke="#2a86cf" stroke-width="4" stroke-dasharray="13 6.5"/>
<line x1="254.1" y1="402" x2="254.1" y2="407.3" stroke="#2a86cf" stroke-width="4"/>
<line x1="550.9" y1="375.4" x2="550.9" y2="473.7" stroke="#2a86cf" stroke-width="4" stroke-dasharray="14.6 6.4"/>
<polyline points="552.20,376.50 611.40,418.30 630.30,391.30" fill="none" stroke="#c3d1ee" stroke-width="7.5" opacity="0.8" stroke-linejoin="round"/>
<polyline points="552.20,376.50 611.40,418.30 630.30,391.30" fill="none" stroke="#0d1626" stroke-width="2.9" stroke-linejoin="round"/>
<line x1="73.5" y1="288.8" x2="679.7" y2="362.3" stroke="#6b8e23" stroke-width="3.2" stroke-linecap="round"/>
<line x1="73.3" y1="428.2" x2="679.7" y2="362.3" stroke="#6b8e23" stroke-width="3.2" stroke-linecap="round"/>
<circle cx="552.2" cy="376.5" r="6.9" fill="none" stroke="#2a86cf" stroke-width="3.2"/>
<line x1="535" y1="377.3" x2="546" y2="377.3" stroke="#2a86cf" stroke-width="2.6"/>
<circle cx="73.6" cy="211.3" r="10.8" fill="#fff" fill-opacity="0.7" stroke="#000" stroke-width="2.1"/>
<path d="M71.40,209.40 L74.50,206.70 V215.80" stroke="#3a88c8" stroke-width="1.35" fill="none"/>
<circle cx="253.7" cy="421.3" r="10.8" fill="#fff" fill-opacity="0.7" stroke="#000" stroke-width="2.1"/>
<text x="253.7" y="425.10" font-size="12.5" fill="#3a88c8" text-anchor="middle">2</text>
<circle cx="295.2" cy="303" r="10.8" fill="#fff" fill-opacity="0.7" stroke="#000" stroke-width="2.1"/>
<text x="295.2" y="306.80" font-size="12.5" fill="#3a88c8" text-anchor="middle">3</text>
<circle cx="393.1" cy="403.9" r="10.8" fill="#fff" fill-opacity="0.7" stroke="#000" stroke-width="2.1"/>
<text x="393.1" y="407.70" font-size="12.5" fill="#3a88c8" text-anchor="middle">4</text>
<circle cx="468.2" cy="323.1" r="10.8" fill="#fff" fill-opacity="0.7" stroke="#000" stroke-width="2.1"/>
<text x="468.2" y="326.90" font-size="12.5" fill="#3a88c8" text-anchor="middle">5</text>
<circle cx="532.2" cy="390.8" r="10.8" fill="#fff" fill-opacity="0.7" stroke="#000" stroke-width="2.1"/>
<text x="532.2" y="394.60" font-size="12.5" fill="#3a88c8" text-anchor="middle">6</text>
<circle cx="539.9" cy="346" r="10.8" fill="#fff" fill-opacity="0.7" stroke="#000" stroke-width="2.1"/>
<text x="539.9" y="349.80" font-size="12.5" fill="#3a88c8" text-anchor="middle">7</text>
<text x="274.2" y="341.7" font-size="21.5" font-weight="bold" font-style="italic" fill="#2a86cf" text-anchor="middle">H</text>
<text x="534.8" y="407.3" font-size="21" font-weight="bold" font-style="italic" fill="#2a86cf" text-anchor="middle">H</text>
<line x1="630.3" y1="391.3" x2="652.9" y2="365.8" stroke="#8aa85c" stroke-width="6"/>
<line x1="630.3" y1="391.3" x2="652.9" y2="365.8" stroke="#a9c486" stroke-width="4"/>
<line x1="630.3" y1="391.3" x2="652.9" y2="365.8" stroke="#111" stroke-width="1.4" stroke-dasharray="3.5 2.2"/>
<line x1="652.9" y1="365.8" x2="762.3" y2="474.2" stroke="#3f8fca" stroke-width="6.2"/>
<line x1="652.9" y1="365.8" x2="762.3" y2="474.2" stroke="#62b0e2" stroke-width="4.2"/>
<line x1="652.9" y1="365.8" x2="762.3" y2="474.2" stroke="#10233a" stroke-width="1.4" stroke-dasharray="3.5 2.2"/>
<circle cx="611.4" cy="418.3" r="6.3" fill="#000"/>
<circle cx="630.3" cy="391.3" r="6.3" fill="#000"/>
<line x1="439.5" y1="473.7" x2="741" y2="473.7" stroke="#2a7fc0" stroke-width="3"/>
<polygon points="739,469.9 751.5,473.7 739,477.5" fill="#2a7fc0"/>
<circle cx="762.3" cy="474.2" r="7.2" fill="#b02a2e" stroke="#2a86cf" stroke-width="3.8"/>
<line x1="752" y1="464" x2="762.3" y2="474.2" stroke="#10233a" stroke-width="1.4" stroke-dasharray="3.5 2.2"/>
<rect x="296" y="462.6" width="43.8" height="22.5" rx="3.5" fill="#ad2a2f" stroke="#722048" stroke-width="1.3"/>
<text x="317.9" y="477.3" font-size="14" fill="#fff" text-anchor="middle">5.64</text>
<rect x="372.2" y="462.6" width="57.3" height="22.5" rx="3.5" fill="#2a86cf" stroke="#2a4c8e" stroke-width="1.3"/>
<text x="401" y="477.6" font-size="14.6" fill="#fff" text-anchor="middle">Target</text>
<circle cx="423.4" cy="395.8" r="15.2" fill="#2a86cf" stroke="#1d4f8a" stroke-width="1"/>
<g transform="translate(414.40,390.20) scale(0.960,0.980)" stroke="#fff" stroke-width="1.15" fill="none" stroke-linecap="butt"><path d="M1.6,1.4 H8.4 M5,0 V2.8 M0.6,3.6 H9.0 V5.0 M3.0,4.9 L4.2,5.8 M2.4,6.5 L3.6,7.4 M0.2,8.2 H9.8 M6.3,5.2 C6.3,8.0 4.6,9.3 0.8,10 M5.8,8.6 L9.6,10"/></g>
<path d="M426.3,393.6 L429.2,391.3 V398.6" stroke="#fff" stroke-width="1.3" fill="none"/>
<polygon points="648.8,350 656,350 652.6,364.5" fill="#2a86cf"/>
<circle cx="652.3" cy="338.3" r="15.1" fill="#2a86cf" stroke="#1d4f8a" stroke-width="1"/>
<g transform="translate(644.30,333.10) scale(0.960,0.980)" stroke="#fff" stroke-width="1.15" fill="none" stroke-linecap="butt"><path d="M1.6,1.4 H8.4 M5,0 V2.8 M0.6,3.6 H9.0 V5.0 M3.0,4.9 L4.2,5.8 M2.4,6.5 L3.6,7.4 M0.2,8.2 H9.8 M6.3,5.2 C6.3,8.0 4.6,9.3 0.8,10 M5.8,8.6 L9.6,10"/></g>
<text x="658.2" y="342.1" font-size="11" fill="#fff" text-anchor="middle">2</text>
<rect x="26.0" y="199.5" width="781.0" height="297.8" fill="none" stroke="#cccccc" stroke-width="1.25"/>
</g>
</svg></body></html>
